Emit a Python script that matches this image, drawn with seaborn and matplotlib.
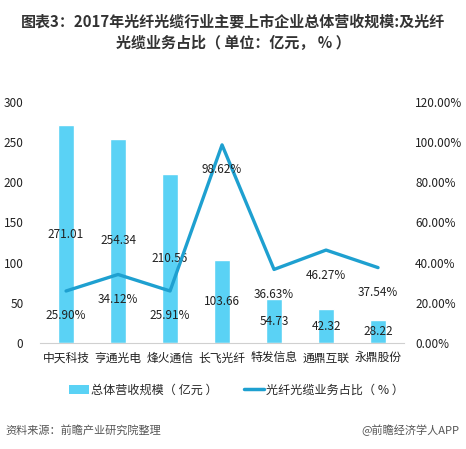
import numpy as np
import pandas as pd
import matplotlib
matplotlib.use('Agg')
import matplotlib.pyplot as plt
from matplotlib.lines import Line2D
from matplotlib.patches import Patch
import seaborn as sns

companies = ['中天科技', '亨通光电', '烽火通信', '长飞光纤', '特发信息', '通鼎互联', '永鼎股份']
revenue = [271.01, 254.34, 210.56, 103.66, 54.73, 42.32, 28.22]
share = [25.90, 34.12, 25.91, 98.62, 36.63, 46.27, 37.54]
right_ticks = [0, 20, 40, 60, 80, 100, 120]

bar_color = '#5AD2F5'
line_color = '#1EA0D0'

sns.set_style('white')
plt.rcParams['font.family'] = ['Noto Sans CJK SC', 'DejaVu Sans']

df = pd.DataFrame({'company': companies, 'revenue': revenue, 'share': share})

fig = plt.figure(figsize=(4.66, 4.49), dpi=100)
ax = fig.add_axes([0.086, 0.236, 0.781, 0.537])

sns.barplot(data=df, x='company', y='revenue', color=bar_color, width=0.31,
            saturation=1, ax=ax)
ax.set_ylim(0, 300)
ax.set_xlim(-0.5, 6.5)
ax.set_yticks([0, 50, 100, 150, 200, 250, 300])
ax.set_xlabel('')
ax.set_ylabel('')
for s in ['top', 'right', 'left']:
    ax.spines[s].set_visible(False)
ax.spines['bottom'].set_color('#D0D0D0')
ax.tick_params(axis='y', length=0, labelsize=8.5, colors='#222222', pad=12)
ax.tick_params(axis='x', length=0, labelsize=8.5, colors='#222222', pad=6)

for i, v in enumerate(revenue):
    ax.text(i, v / 2, f'{v:.2f}', ha='center', va='center', fontsize=8.5, color='#222222')

ax2 = ax.twinx()
sns.lineplot(x=np.arange(len(companies)), y=share, color=line_color, lw=2.4, ax=ax2)
ax2.set_ylim(0, 120)
ax2.set_yticks(right_ticks)
ax2.set_yticklabels([f'{t:.2f}%' for t in right_ticks])
for s in ['top', 'right', 'left', 'bottom']:
    ax2.spines[s].set_visible(False)
ax2.tick_params(axis='y', length=0, labelsize=8.5, colors='#222222', pad=8)
for i, v in enumerate(share):
    ax2.annotate(f'{v:.2f}%', (i, v), xytext=(0, -18), textcoords='offset points',
                 ha='center', va='center', fontsize=8.5, color='#222222')

fig.text(0.5, 0.952, '图表3：2017年光纤光缆行业主要上市企业总体营收规模:及光纤',
         ha='center', va='center', fontsize=10.8, fontweight='bold', color='#333333')
fig.text(0.5, 0.905, '光缆业务占比（ 单位：亿元， % ）',
         ha='center', va='center', fontsize=10.8, fontweight='bold', color='#333333')

handles = [Patch(facecolor=bar_color, edgecolor='none'),
           Line2D([0], [0], color=line_color, lw=2.5)]
fig.legend(handles, ['总体营收规模（ 亿元 ）', '光纤光缆业务占比（ % ）'],
           loc='center', bbox_to_anchor=(0.508, 0.131), ncol=2, frameon=False,
           fontsize=8.7, handlelength=1.6, handletextpad=0.2, columnspacing=2.2)

fig.text(0.012, 0.042, '资料来源：前瞻产业研究院整理', ha='left', va='center',
         fontsize=8, color='#555555', style='italic')
fig.text(0.985, 0.042, '@前瞻经济学人APP', ha='right', va='center',
         fontsize=8, color='#555555')

fig.savefig('out.png', dpi=100)
